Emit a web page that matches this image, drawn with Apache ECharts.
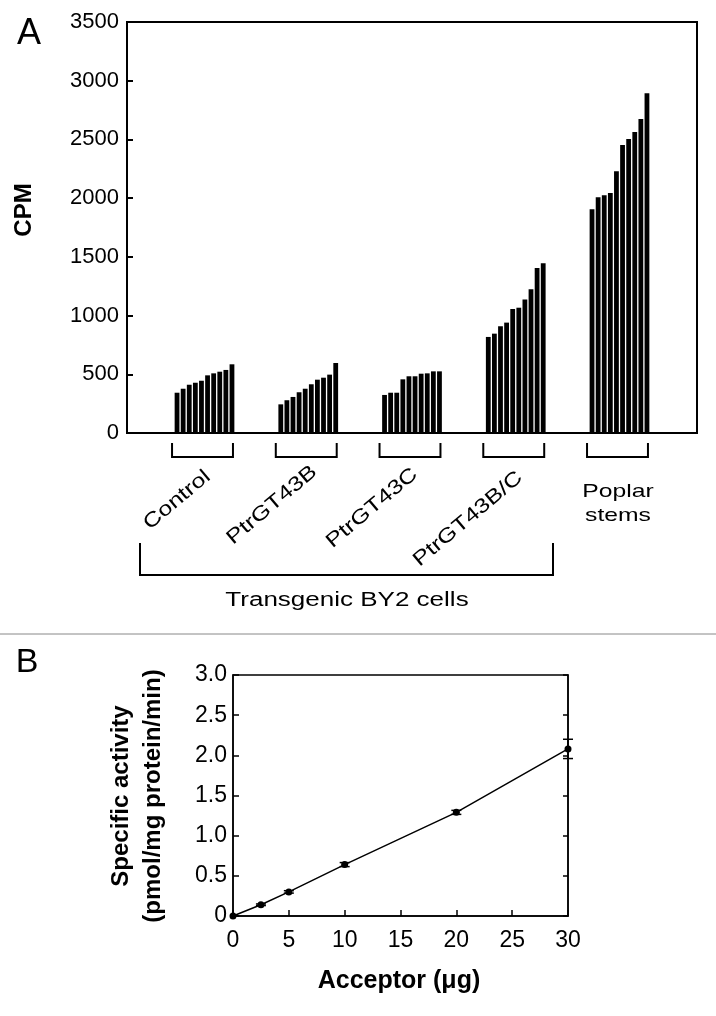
<!DOCTYPE html>
<html lang="en">
<head>
<meta charset="utf-8">
<title>CPM and specific activity</title>
<script src="https://cdn.jsdelivr.net/npm/echarts@6/dist/echarts.min.js"></script>
<style>
    html, body { margin: 0; padding: 0; background: #fff; }
    #box { width: 716px; height: 1016px; }
</style>
</head>
<body>
<div id="box"></div>
<script>
    // panel A - CPM, ten lines per group
    var groupNames = ['Control', 'PtrGT43B', 'PtrGT43C', 'PtrGT43B/C'];
    var controlCpm = [343, 377, 411, 428, 445, 491, 508, 522, 537, 585];
    var gt43bCpm = [244, 279, 307, 347, 377, 415, 454, 471, 497, 596];
    var gt43cCpm = [324, 343, 343, 457, 483, 483, 505, 508, 525, 525];
    var gt43bcCpm = [818, 846, 909, 940, 1056, 1067, 1136, 1224, 1405, 1445];
    var poplarCpm = [1905, 2008, 2025, 2044, 2229, 2453, 2504, 2564, 2675, 2894];

    // panel B - specific activity vs acceptor
    var acceptor = [0, 2.5, 5, 10, 20, 30];
    var activity = [0, 0.14, 0.30, 0.64, 1.29, 2.08];
    var activityErr = [0, 0.01, 0.015, 0.025, 0.025, 0.12];

    var FONT = '"Liberation Sans", Arial, sans-serif';
    var groups = [controlCpm, gt43bCpm, gt43cCpm, gt43bcCpm, poplarCpm];
    var SLOT = 17; // bar slots from one group start to the next

    var barData = [];
    for (var g = 0; g < groups.length; g++) {
        for (var i = 0; i < groups[g].length; i++) {
            barData.push([g * SLOT + i + 0.5, groups[g][i]]);
        }
    }

    var lineData = [], errData = [];
    for (var k = 0; k < acceptor.length; k++) {
        lineData.push([acceptor[k], activity[k]]);
        if (activityErr[k] > 0) {
            errData.push([acceptor[k], activity[k] - activityErr[k], activity[k] + activityErr[k]]);
        }
    }

    function txt(x, y, text, size, opts) {
        opts = opts || {};
        return {
            type: 'text', x: x, y: y,
            rotation: opts.rot || 0,
            scaleX: opts.sx || 1,
            scaleY: opts.sy || 1,
            style: {
                text: text,
                fontFamily: FONT,
                fontSize: size,
                fontWeight: opts.bold ? 'bold' : 'normal',
                fill: '#000',
                align: 'center', verticalAlign: 'middle',
                textAlign: 'center', textVerticalAlign: 'middle'
            }
        };
    }

    var myChart = echarts.init(document.getElementById('box'));

    var option = {
        animation: false,
        textStyle: { fontFamily: FONT, color: '#000' },
        grid: [
            { left: 127, right: 19, top: 22, height: 411, show: true, borderColor: '#000', borderWidth: 2, backgroundColor: 'transparent' },
            { left: 233, right: 148, top: 675, height: 241, show: true, borderColor: '#000', borderWidth: 1.5, backgroundColor: 'transparent' }
        ],
        xAxis: [
            {
                gridIndex: 0, type: 'value', min: -7.7, max: 85.7,
                axisLine: { show: true, onZero: false, lineStyle: { color: '#000', width: 2 } },
                axisTick: { show: false }, axisLabel: { show: false }, splitLine: { show: false }
            },
            {
                gridIndex: 1, type: 'value', min: 0, max: 30, interval: 5,
                axisLine: { show: true, onZero: false, lineStyle: { color: '#000', width: 1.5 } },
                axisTick: { inside: true, length: 6, lineStyle: { color: '#000', width: 1.5 } },
                axisLabel: { color: '#000', fontSize: 23, margin: 13 },
                splitLine: { show: false }
            }
        ],
        yAxis: [
            {
                gridIndex: 0, type: 'value', min: 0, max: 3500, interval: 500,
                axisLine: { show: true, onZero: false, lineStyle: { color: '#000', width: 2 } },
                axisTick: { inside: true, length: 6, lineStyle: { color: '#000', width: 2 } },
                axisLabel: {
                    color: '#000', fontSize: 22, margin: 8,
                    formatter: function (v) { return String(v); }
                },
                splitLine: { show: false }
            },
            {
                gridIndex: 1, type: 'value', min: 0, max: 3, interval: 0.5,
                axisLine: { show: true, onZero: false, lineStyle: { color: '#000', width: 1.5 } },
                axisTick: { inside: true, length: 6, lineStyle: { color: '#000', width: 1.5 } },
                axisLabel: {
                    color: '#000', fontSize: 23, margin: 6,
                    formatter: function (v) { return v === 0 ? '0' : v.toFixed(1); }
                },
                splitLine: { show: false }
            },
            {
                gridIndex: 1, type: 'value', min: 0, max: 3, interval: 0.5, position: 'right',
                axisLine: { show: true, onZero: false, lineStyle: { color: '#000', width: 1.5 } },
                axisTick: { inside: true, length: 5, lineStyle: { color: '#000', width: 1.5 } },
                axisLabel: { show: false }, splitLine: { show: false }
            }
        ],
        series: [
            {
                type: 'bar', xAxisIndex: 0, yAxisIndex: 0,
                data: barData, barWidth: 4.8,
                itemStyle: { color: '#000' }
            },
            {
                type: 'line', xAxisIndex: 1, yAxisIndex: 1,
                data: lineData, symbol: 'circle', symbolSize: 7,
                lineStyle: { color: '#000', width: 1.5 },
                itemStyle: { color: '#000' }, z: 3
            },
            {
                type: 'custom', xAxisIndex: 1, yAxisIndex: 1,
                data: errData, z: 4,
                renderItem: function (params, api) {
                    var lo = api.coord([api.value(0), api.value(1)]);
                    var hi = api.coord([api.value(0), api.value(2)]);
                    var w = 5;
                    var st = { stroke: '#000', lineWidth: 1.5 };
                    return {
                        type: 'group',
                        children: [
                            { type: 'line', shape: { x1: hi[0], y1: hi[1], x2: lo[0], y2: lo[1] }, style: st },
                            { type: 'line', shape: { x1: hi[0] - w, y1: hi[1], x2: hi[0] + w, y2: hi[1] }, style: st },
                            { type: 'line', shape: { x1: lo[0] - w, y1: lo[1], x2: lo[0] + w, y2: lo[1] }, style: st }
                        ]
                    };
                }
            }
        ]
    };
    myChart.setOption(option);

    // brackets under each group of bars, placed from the bar axis
    var graphics = [];
    for (var b = 0; b < groups.length; b++) {
        var x1 = myChart.convertToPixel({ xAxisIndex: 0 }, b * SLOT + 0.5) - 5;
        var x2 = myChart.convertToPixel({ xAxisIndex: 0 }, b * SLOT + groups[b].length - 0.5) + 1;
        graphics.push({
            type: 'polyline',
            shape: { points: [[x1, 443], [x1, 457], [x2, 457], [x2, 443]] },
            style: { stroke: '#000', lineWidth: 2, fill: null }
        });
    }

    var labelPos = [[177, 500], [272, 505], [372, 508], [468, 519]];
    for (var n = 0; n < groupNames.length; n++) {
        graphics.push(txt(labelPos[n][0], labelPos[n][1], groupNames[n], 20,
            { rot: 40 * Math.PI / 180, sx: 1.25 }));
    }

    graphics.push(
        txt(29, 34, 'A', 36),
        txt(24, 210, 'CPM', 24, { bold: true, rot: Math.PI / 2 }),
        txt(618, 492, 'Poplar', 19, { sx: 1.3 }),
        txt(618, 516, 'stems', 19, { sx: 1.3 }),
        {
            type: 'polyline',
            shape: { points: [[140, 543], [140, 575], [553, 575], [553, 543]] },
            style: { stroke: '#000', lineWidth: 2, fill: null }
        },
        txt(347, 600, 'Transgenic BY2 cells', 20, { sx: 1.3 }),
        {
            type: 'line',
            shape: { x1: 0, y1: 634, x2: 716, y2: 634 },
            style: { stroke: '#888', lineWidth: 1 }
        },
        txt(27, 663, 'B', 34),
        txt(121, 796, 'Specific activity', 24, { bold: true, rot: Math.PI / 2 }),
        txt(153, 796, '(pmol/mg protein/min)', 24, { bold: true, rot: Math.PI / 2 }),
        txt(399, 981, 'Acceptor (\u03bcg)', 25, { bold: true })
    );

    myChart.setOption({ graphic: { elements: graphics } });
</script>
</body>
</html>
